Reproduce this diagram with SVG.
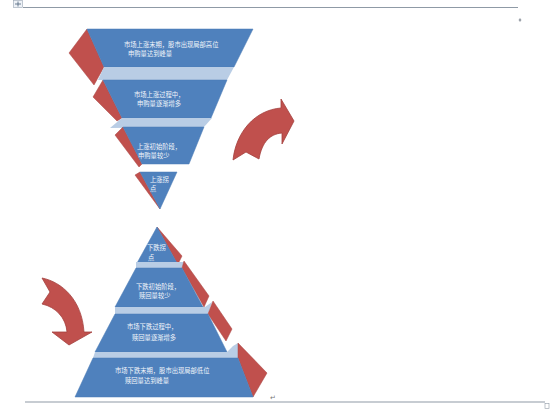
<svg xmlns="http://www.w3.org/2000/svg" width="550" height="414" viewBox="0 0 550 414">
<style>
.blue{fill:#4f81bd;stroke:#4a7ab5;stroke-width:0.5}
.side{fill:#c0504d;stroke:#a94442;stroke-width:0.5}
.strip{fill:#b9cde5}
.t{font-family:"Noto Sans CJK SC","Noto Sans",sans-serif;font-size:6.3px;fill:#f2f6fb}
.arrow{fill:#c0504d;stroke:#a3403d;stroke-width:0.8}
.rule{stroke:#8f9aa6;stroke-width:1.2;fill:none}
</style>
<rect width="550" height="414" fill="#ffffff"/>
<g id="page">
<line class="rule" x1="23" y1="7.5" x2="518" y2="7.5"/>
<rect x="13.5" y="0.5" width="9" height="7" fill="#eef2f7" stroke="#9aa6b4" stroke-width="0.6"/>
<path d="M18,1.5 V6.5 M15,4 H21" stroke="#4a5f7a" stroke-width="0.8"/>
<path d="M520,18 L521.5,20 L520,22 L518.5,20 Z" fill="#9aa0a8"/>
<line class="rule" x1="25" y1="402" x2="545" y2="402"/>
<rect x="545" y="403.5" width="4" height="5" fill="#fff" stroke="#8f9aa6" stroke-width="0.6"/>
<text x="270" y="400" font-family="DejaVu Sans, sans-serif" font-size="7" fill="#777">↵</text>
</g>
<g id="up1">
<polygon class="side" points="87,29 69,53 94,85 104,67"/>
<polygon class="blue" points="87,29 253,29 234,67 104,67"/>
<text class="t" x="124" y="46.5">市场上涨末期，股市出现局部高位</text>
<text class="t" x="128" y="55.5">申购量达到峰量</text>
</g>
<polygon class="strip" points="104,67 234,67 227,80 98,80"/>
<g id="up2">
<polygon class="side" points="103,80 93,97 117,121 122,118"/>
<polygon class="blue" points="103,80 227,80 211,118 122,118"/>
<text class="t" x="134" y="96.5">市场上涨过程中，</text>
<text class="t" x="137" y="105.5">申购量逐渐增多</text>
</g>
<polygon class="strip" points="122,118 212,118 204,127 110,128"/>
<g id="up3">
<polygon class="side" points="123,127 115,135 139,167 142,164"/>
<polygon class="blue" points="123,127 204,127 189,164 142,164"/>
<text class="t" x="137" y="148.5">上涨初始阶段，</text>
<text class="t" x="138" y="157.5">申购量较少</text>
</g>
<g id="up4">
<polygon class="side" points="140,172 135,175 157,205 160,209"/>
<polygon class="blue" points="140,172 177,172 160,209"/>
<text class="t" x="150" y="181.5">上涨拐</text>
<text class="t" x="150" y="190.5">点</text>
</g>
<g id="down4">
<polygon class="side" points="157,227 182,256 179,262 177,263"/>
<polygon class="blue" points="157,227 177,263 137,263"/>
<text class="t" x="147" y="249.5">下跌拐</text>
<text class="t" x="148" y="259.5">点</text>
</g>
<polygon class="strip" points="136,262 184,262 182,268 136,268"/>
<g id="down3">
<polygon class="side" points="184,261 209,296 204,307 182,268"/>
<polygon class="blue" points="136,268 182,268 203,307 115,307"/>
<text class="t" x="136" y="288.5">下跌初始阶段，</text>
<text class="t" x="139" y="297.5">赎回量较少</text>
</g>
<polygon class="strip" points="115,307 205,307 212,302 208,314 115,314"/>
<g id="down2">
<polygon class="side" points="213,301 232,329 226,341 208,314"/>
<polygon class="blue" points="115,314 208,314 227,352 95,352"/>
<text class="t" x="127" y="328.5">市场下跌过程中，</text>
<text class="t" x="132" y="339.5">赎回量逐渐增多</text>
</g>
<polygon class="strip" points="95,352 227,352 233,346 238,343 238,358 93,358"/>
<g id="down1">
<polygon class="side" points="238,343 267,373 253,397 238,358"/>
<polygon class="blue" points="93,358 238,358 253,397 75,397"/>
<text class="t" x="115" y="372.5">市场下跌末期，股市出现局部低位</text>
<text class="t" x="125" y="382.5">赎回量达到峰量</text>
</g>
<g id="connectors">
<path class="arrow" d="M233,160 C236,132 255,110 281,108 L281,99 L294,121 L282,144 L282,133 C270,134 262,142 259,159 L246,152 Z"/>
<path class="arrow" d="M42,278 C62,282 82,300 84,332 L92,332 L69,345 L52,332 L67,332 C66,318 56,307 42,304 L50,292 Z"/>
</g>
</svg>
